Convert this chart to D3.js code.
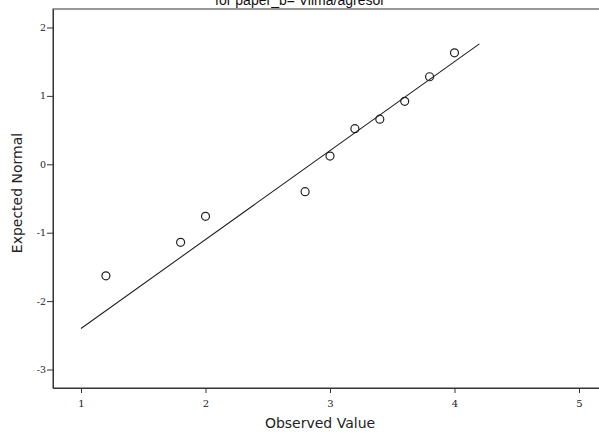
<!DOCTYPE html>
<html>
<head>
<meta charset="utf-8">
<script src="https://cdn.jsdelivr.net/npm/d3@7"></script>
<style>
  html, body { margin: 0; padding: 0; background: #fff; }
  svg { display: block; }
</style>
</head>
<body>
<svg id="chart" width="599" height="434"></svg>
<script>
// Normal Q-Q plot: observed scores vs. expected normal quantiles
const titleText = "for paper_b= Vilma/agresor";
const observed = [1.2, 1.8, 2.0, 2.8, 3.0, 3.2, 3.4, 3.6, 3.8, 4.0];
const expectedNormal = [-1.63, -1.14, -0.76, -0.40, 0.12, 0.52, 0.66, 0.92, 1.28, 1.63];
// reference line end points (observed value, expected normal)
const refLineX = [1.0, 4.2];
const refLineY = [-2.40, 1.76];
const xTicks = [1, 2, 3, 4, 5];
const yTicks = [2, 1, 0, -1, -2, -3];

const svg = d3.select("#chart");
const plotLeft = 53, plotTop = 9, plotBottom = 388, plotRight = 607;

const x = d3.scaleLinear().domain([0.775, 5.225]).range([plotLeft, plotRight]);
const y = d3.scaleLinear().domain([-3.27, 2.27]).range([plotBottom, plotTop]);

const ink = "#333";

// title (sits partly above the page edge)
svg.append("text")
  .attr("x", 300).attr("y", 5)
  .attr("text-anchor", "middle")
  .attr("font-family", "Liberation Sans, Arial, sans-serif")
  .attr("font-size", 14)
  .attr("fill", "#111")
  .text(titleText);

// frame
svg.append("rect")
  .attr("x", plotLeft).attr("y", plotTop)
  .attr("width", plotRight - plotLeft).attr("height", plotBottom - plotTop)
  .attr("fill", "none").attr("stroke", "#555").attr("stroke-width", 1.2);

// axes
const xAxis = d3.axisBottom(x).tickValues(xTicks).tickSize(5).tickSizeOuter(0)
  .tickFormat(d3.format("d"));
const gx = svg.append("g").attr("transform", `translate(0,${plotBottom})`).call(xAxis);
gx.select(".domain").attr("stroke", ink);
gx.selectAll(".tick line").attr("stroke", ink);
gx.selectAll(".tick text").attr("dy", "1.1em")
  .attr("font-family", "DejaVu Serif, serif").attr("font-size", 10).attr("fill", "#222");

const yAxis = d3.axisLeft(y).tickValues(yTicks).tickSize(6).tickSizeOuter(0)
  .tickFormat(d => d < 0 ? "-" + Math.abs(d) : String(d));
const gy = svg.append("g").attr("transform", `translate(${plotLeft},0)`).call(yAxis);
gy.select(".domain").attr("stroke", ink);
gy.selectAll(".tick line").attr("stroke", ink);
gy.selectAll(".tick text").attr("x", -7)
  .attr("font-family", "DejaVu Serif, serif").attr("font-size", 9.5).attr("fill", "#222");

// axis titles
svg.append("text")
  .attr("x", 320).attr("y", 428)
  .attr("text-anchor", "middle")
  .attr("font-family", "DejaVu Sans, sans-serif")
  .attr("font-size", 14).attr("fill", "#222")
  .text("Observed Value");

svg.append("text")
  .attr("transform", "translate(22,193) rotate(-90)")
  .attr("text-anchor", "middle")
  .attr("font-family", "DejaVu Sans, sans-serif")
  .attr("font-size", 14).attr("fill", "#222")
  .text("Expected Normal");

// reference line
svg.append("line")
  .attr("x1", x(refLineX[0])).attr("y1", y(refLineY[0]))
  .attr("x2", x(refLineX[1])).attr("y2", y(refLineY[1]))
  .attr("stroke", "#222").attr("stroke-width", 1.1);

// observed points
svg.append("g").selectAll("circle")
  .data(observed.map((v, i) => ({ v, e: expectedNormal[i] })))
  .join("circle")
  .attr("cx", d => x(d.v)).attr("cy", d => y(d.e))
  .attr("r", 4)
  .attr("fill", "none").attr("stroke", "#222").attr("stroke-width", 1.2);
</script>
</body>
</html>
